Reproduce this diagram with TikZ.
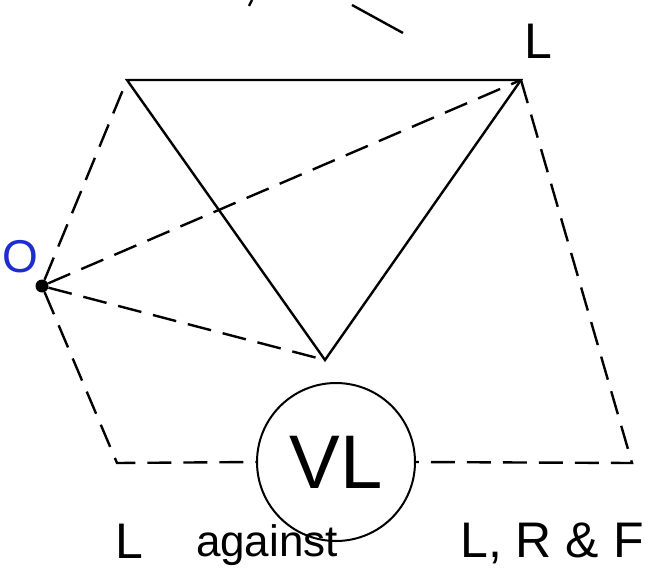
\documentclass[tikz,border=0pt]{standalone}
\usepackage{fontspec}
\setmainfont{Liberation Sans}
\definecolor{inkblue}{RGB}{30,45,205}

\begin{document}
\begin{tikzpicture}[
  x=1pt,y=-1pt,
  edge/.style={line width=2.4pt},
  dashededge/.style={line width=2.4pt,dash pattern=on 24pt off 12pt},
  tag/.style={inner sep=0pt,anchor=base,font=\fontsize{50}{54}\selectfont}
]
  \useasboundingbox (0,0) rectangle (659,573);

  \coordinate (top-left) at (127,80);
  \coordinate (top-right) at (521,80);
  \coordinate (apex) at (325,360);
  \coordinate (base-left) at (117,463);
  \coordinate (base-right) at (632,463);
  \node[circle,fill,inner sep=0pt,minimum size=13pt] (origin) at (42,286) {};
  \node[draw,circle,line width=2pt,minimum size=158pt,
    font=\fontsize{76}{80}\selectfont] (vl) at (336,462) {VL};

  % solid triangle
  \draw[edge] (top-left) -- (top-right) -- (apex) -- cycle;

  % dashed lines from O
  \draw[dashededge] (origin) -- (top-left);
  \draw[dashededge] (origin) -- (top-right);
  \draw[dashededge] (origin) -- (apex);
  \draw[dashededge] (origin) -- (base-left) -- (vl.west);
  \draw[dashededge] (top-right) -- (base-right) -- (vl.east);

  % cut-off strokes at the top
  \coordinate (stroke-a1) at (252,0);
  \coordinate (stroke-a2) at (249,6);
  \coordinate (stroke-b1) at (352,5);
  \coordinate (stroke-b2) at (403,33);
  \draw[edge] (stroke-a1) -- (stroke-a2);
  \draw[edge] (stroke-b1) -- (stroke-b2);

  \node[tag] (label-top) at (538,58) {L};
  \node[tag,text=inkblue,font=\fontsize{46}{50}\selectfont] (label-origin) at (20,272) {O};
  \node[tag] (label-left) at (129,558) {L};
  \node[tag,font=\fontsize{44}{48}\selectfont] (label-against) at (267,556) {against};
  \node[tag] (label-right) at (552,557) {L, R \& F};
\end{tikzpicture}
\end{document}
